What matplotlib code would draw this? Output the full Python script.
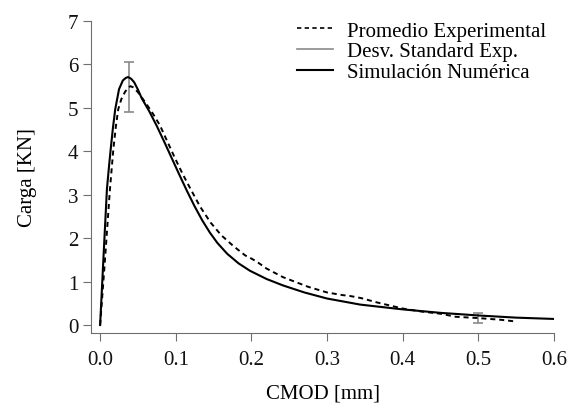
import matplotlib.pyplot as plt
from matplotlib.lines import Line2D

plt.rcParams['font.family'] = ['Liberation Serif', 'DejaVu Serif']
plt.rcParams['font.size'] = 15

# Simulación numérica (CMOD [mm], carga [KN])
sim_x = [0.000, 0.005, 0.009, 0.012, 0.014, 0.017, 0.020, 0.025, 0.030, 0.034,
         0.037, 0.041, 0.045, 0.050, 0.055, 0.065, 0.075, 0.085, 0.095, 0.105,
         0.115, 0.125, 0.135, 0.145, 0.155, 0.168, 0.183, 0.198, 0.220, 0.242,
         0.270, 0.300, 0.344, 0.400, 0.450, 0.500, 0.550, 0.600]
sim_y = [0.00, 1.75, 3.13, 3.70, 4.05, 4.55, 4.97, 5.43, 5.63, 5.69,
         5.71, 5.67, 5.59, 5.42, 5.22, 4.92, 4.58, 4.21, 3.83, 3.45,
         3.08, 2.73, 2.41, 2.13, 1.89, 1.64, 1.42, 1.25, 1.06, 0.91,
         0.75, 0.61, 0.47, 0.36, 0.28, 0.22, 0.17, 0.14]

# Promedio experimental
exp_x = [0.000, 0.006, 0.013, 0.0175, 0.021, 0.024, 0.028, 0.033, 0.037, 0.040,
         0.044, 0.050, 0.060, 0.070, 0.079, 0.089, 0.099, 0.109, 0.119, 0.132,
         0.146, 0.160, 0.176, 0.192, 0.200, 0.207, 0.220, 0.242, 0.254, 0.275,
         0.300, 0.320, 0.330, 0.345, 0.366, 0.400, 0.425, 0.450, 0.470, 0.500,
         0.530, 0.550]
exp_y = [0.00, 1.40, 3.13, 4.05, 4.60, 4.97, 5.20, 5.37, 5.46, 5.50,
         5.47, 5.36, 5.12, 4.86, 4.60, 4.22, 3.84, 3.48, 3.15, 2.73,
         2.36, 2.07, 1.82, 1.60, 1.53, 1.46, 1.30, 1.10, 1.02, 0.88,
         0.75, 0.69, 0.67, 0.62, 0.52, 0.38, 0.31, 0.26, 0.19, 0.16,
         0.12, 0.08]

# desviación estándar experimental
err_x = [0.038, 0.500]
err_y = [5.48, 0.155]
err_d = [0.57, 0.115]

fig = plt.figure(figsize=(5.69, 4.06), dpi=100)
ax = fig.add_axes([0.16, 0.1773, 0.8137, 0.7685])

ax.errorbar(err_x, err_y, yerr=err_d, fmt='none', ecolor='#8a8a8a',
            elinewidth=1.2, capsize=3.5, capthick=1.2, zorder=1)
ax.plot(exp_x, exp_y, color='black', lw=1.4, dashes=(2.6, 2.0), zorder=2)
ax.plot(sim_x, sim_y, color='black', lw=1.5, zorder=3)

ax.set_xlim(-0.012, 0.6)
ax.set_ylim(-0.184, 7)
ax.set_xticks([0.0, 0.1, 0.2, 0.3, 0.4, 0.5, 0.6])
ax.set_xticklabels(['0.0', '0.1', '0.2', '0.3', '0.4', '0.5', '0.6'])
ax.set_yticks(range(8))

for s in ['top', 'right']:
    ax.spines[s].set_visible(False)
for s in ['left', 'bottom']:
    ax.spines[s].set_color('#6e6e6e')
    ax.spines[s].set_linewidth(0.8)
ax.tick_params(direction='out', length=6, width=0.8, color='#6e6e6e',
               labelsize=15, labelcolor='#111111')
ax.tick_params(axis='y', pad=3)
ax.tick_params(axis='x', pad=6)

ax.set_xlabel('CMOD [mm]', labelpad=11)
ax.set_ylabel('Carga [KN]', labelpad=22)

handles = [
    Line2D([], [], color='black', lw=1.2, dashes=(2.6, 2.0)),
    Line2D([], [], color='#8a8a8a', lw=1.2),
    Line2D([], [], color='black', lw=1.5),
]
labels = ['Promedio Experimental', 'Desv. Standard Exp.', 'Simulación Numérica']
fig.legend(handles, labels, loc='upper left', frameon=False,
           bbox_to_anchor=(297 / 569, 1 - 22 / 406), bbox_transform=fig.transFigure,
           borderpad=0, borderaxespad=0, handlelength=1.75, handletextpad=0.65,
           labelspacing=0.05, fontsize=15)

fig.savefig('out.png', dpi=100)
